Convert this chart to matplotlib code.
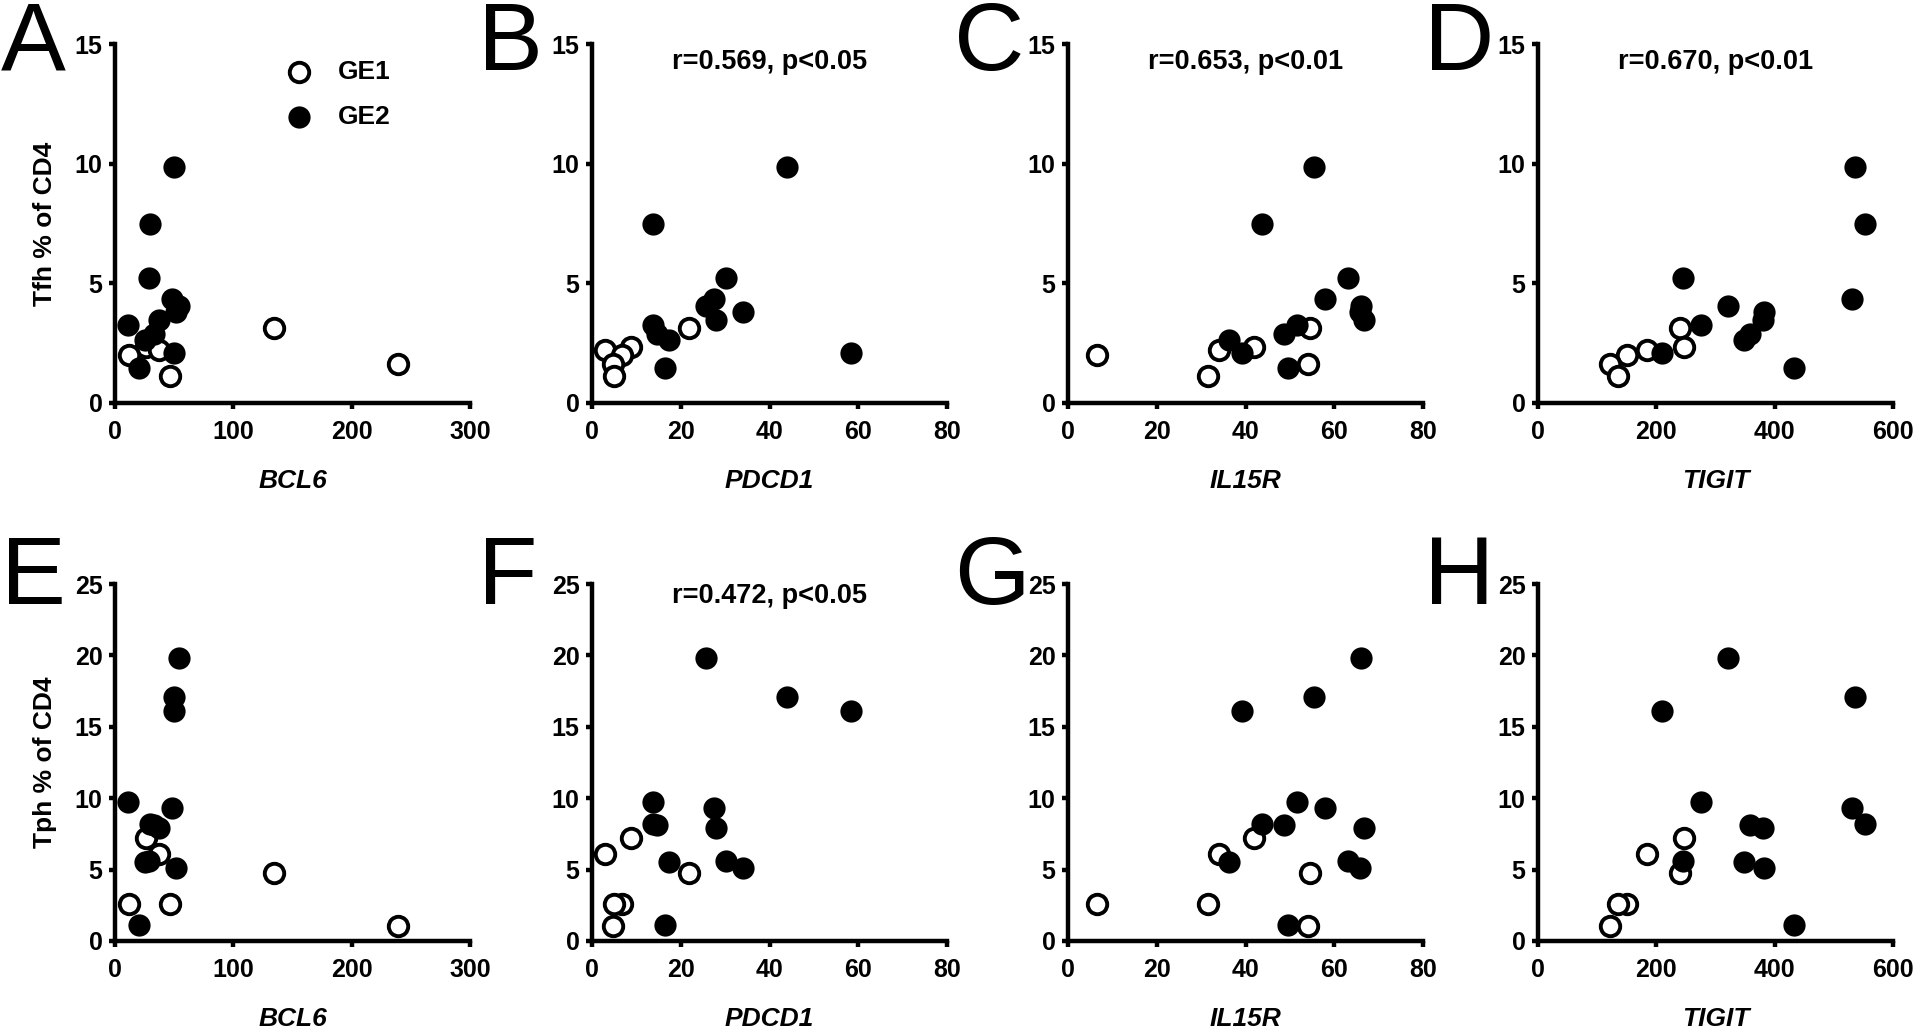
import numpy as np
import matplotlib
matplotlib.use('Agg')
import matplotlib.pyplot as plt

plt.rcParams['font.family'] = ['Liberation Sans', 'DejaVu Sans']
plt.rcParams['font.weight'] = 'bold'
plt.rcParams['axes.labelweight'] = 'bold'

# 18 patients: 6 GE1 then 12 GE2
group = ['GE1'] * 6 + ['GE2'] * 12
bcl6 = [134, 26.4, 37.5, 11.5, 239, 46.5,
        50, 29.7, 28.6, 48, 54, 51.4, 37.5, 11.1, 33, 25, 50, 20]
pdcd1 = [21.9, 8.7, 2.9, 6.8, 4.7, 4.9,
         43.9, 13.8, 30.1, 27.5, 25.6, 34.0, 28.0, 13.8, 14.6, 17.4, 58.3, 16.4]
il15r = [54.6, 41.9, 34.0, 6.6, 54.1, 31.5,
         55.4, 43.8, 63.1, 57.9, 66.1, 65.7, 66.8, 51.5, 48.6, 36.2, 39.1, 49.6]
tigit = [240, 246.6, 185, 150, 121, 136,
         535, 552, 245.5, 530, 321, 382, 380, 275, 359, 348, 209, 432.6]
tfh = [3.13, 2.34, 2.20, 2.02, 1.64, 1.14,
       9.85, 7.49, 5.22, 4.35, 4.04, 3.80, 3.45, 3.27, 2.88, 2.63, 2.09, 1.47]
tph = [4.79, 7.2, 6.07, 2.62, 1.05, 2.62,
       17.06, 8.22, 5.6, 9.3, 19.81, 5.09, 7.9, 9.7, 8.13, 5.52, 16.12, 1.10]

genes = ['BCL6', 'PDCD1', 'IL15R', 'TIGIT']
xvals = [bcl6, pdcd1, il15r, tigit]
xmax = [300, 80, 80, 600]
xstep = [100, 20, 20, 200]

rows = [('Tfh % of CD4', tfh, 15, ['A', 'B', 'C', 'D'],
         [None, 'r=0.569, p<0.05', 'r=0.653, p<0.01', 'r=0.670, p<0.01']),
        ('Tph % of CD4', tph, 25, ['E', 'F', 'G', 'H'],
         [None, 'r=0.472, p<0.05', None, None])]

W, H = 1920, 1028
fig = plt.figure(figsize=(W / 100, H / 100), dpi=100)

lefts = [115, 592, 1068, 1538]
ax_w = 355
row_box = [(403, 359), (941, 357)]  # bottom pixel, height
letter_base = [70, 604]
ann_y = [0.95, 0.965]

g = np.array(group)
for r, (ylab, yv, ymax, letters, notes) in enumerate(rows):
    yv = np.array(yv)
    bottom, hgt = row_box[r]
    for c in range(4):
        xv = np.array(xvals[c])
        ax = fig.add_axes([lefts[c] / W, 1 - bottom / H, ax_w / W, hgt / H])
        ax.scatter(xv[g == 'GE1'], yv[g == 'GE1'], s=14 ** 2, facecolor='white',
                   edgecolor='black', linewidth=2.8, clip_on=False, zorder=3, label='GE1')
        ax.scatter(xv[g == 'GE2'], yv[g == 'GE2'], s=16 ** 2, color='black',
                   linewidth=0, clip_on=False, zorder=4, label='GE2')
        ax.set_xlim(0, xmax[c])
        ax.set_ylim(0, ymax)
        ax.set_xticks(np.arange(0, xmax[c] + 1, xstep[c]))
        ax.set_yticks(np.arange(0, ymax + 1, 5))
        ax.spines[['top', 'right']].set_visible(False)
        for s in ['left', 'bottom']:
            ax.spines[s].set_linewidth(3.2)
        ax.tick_params(width=3.2, length=4, labelsize=18)
        ax.tick_params(axis='x', pad=8)
        ax.tick_params(axis='y', pad=5)
        for lab in ax.get_xticklabels() + ax.get_yticklabels():
            lab.set_fontweight('bold')
        ax.set_xlabel(genes[c], fontsize=19, fontstyle='italic', fontweight='bold', labelpad=18)
        if c == 0:
            ax.set_ylabel(ylab, fontsize=19, fontweight='bold', labelpad=13)
        if notes[c]:
            ax.text(0.5, ann_y[r], notes[c], transform=ax.transAxes, ha='center',
                    va='center', fontsize=19.5, fontweight='bold')
        if r == 0 and c == 0:
            ax.legend(loc='upper left', bbox_to_anchor=(0.48, 0.955), frameon=False,
                      prop={'size': 19, 'weight': 'bold'}, handlelength=1.0,
                      handletextpad=1.0, labelspacing=0.8, borderpad=0,
                      borderaxespad=0, scatterpoints=1)
        fig.text((lefts[c] - 114) / W, 1 - letter_base[r] / H, letters[c],
                 fontsize=70, fontweight='normal', ha='left', va='baseline')

fig.savefig('out.png', dpi=100)
